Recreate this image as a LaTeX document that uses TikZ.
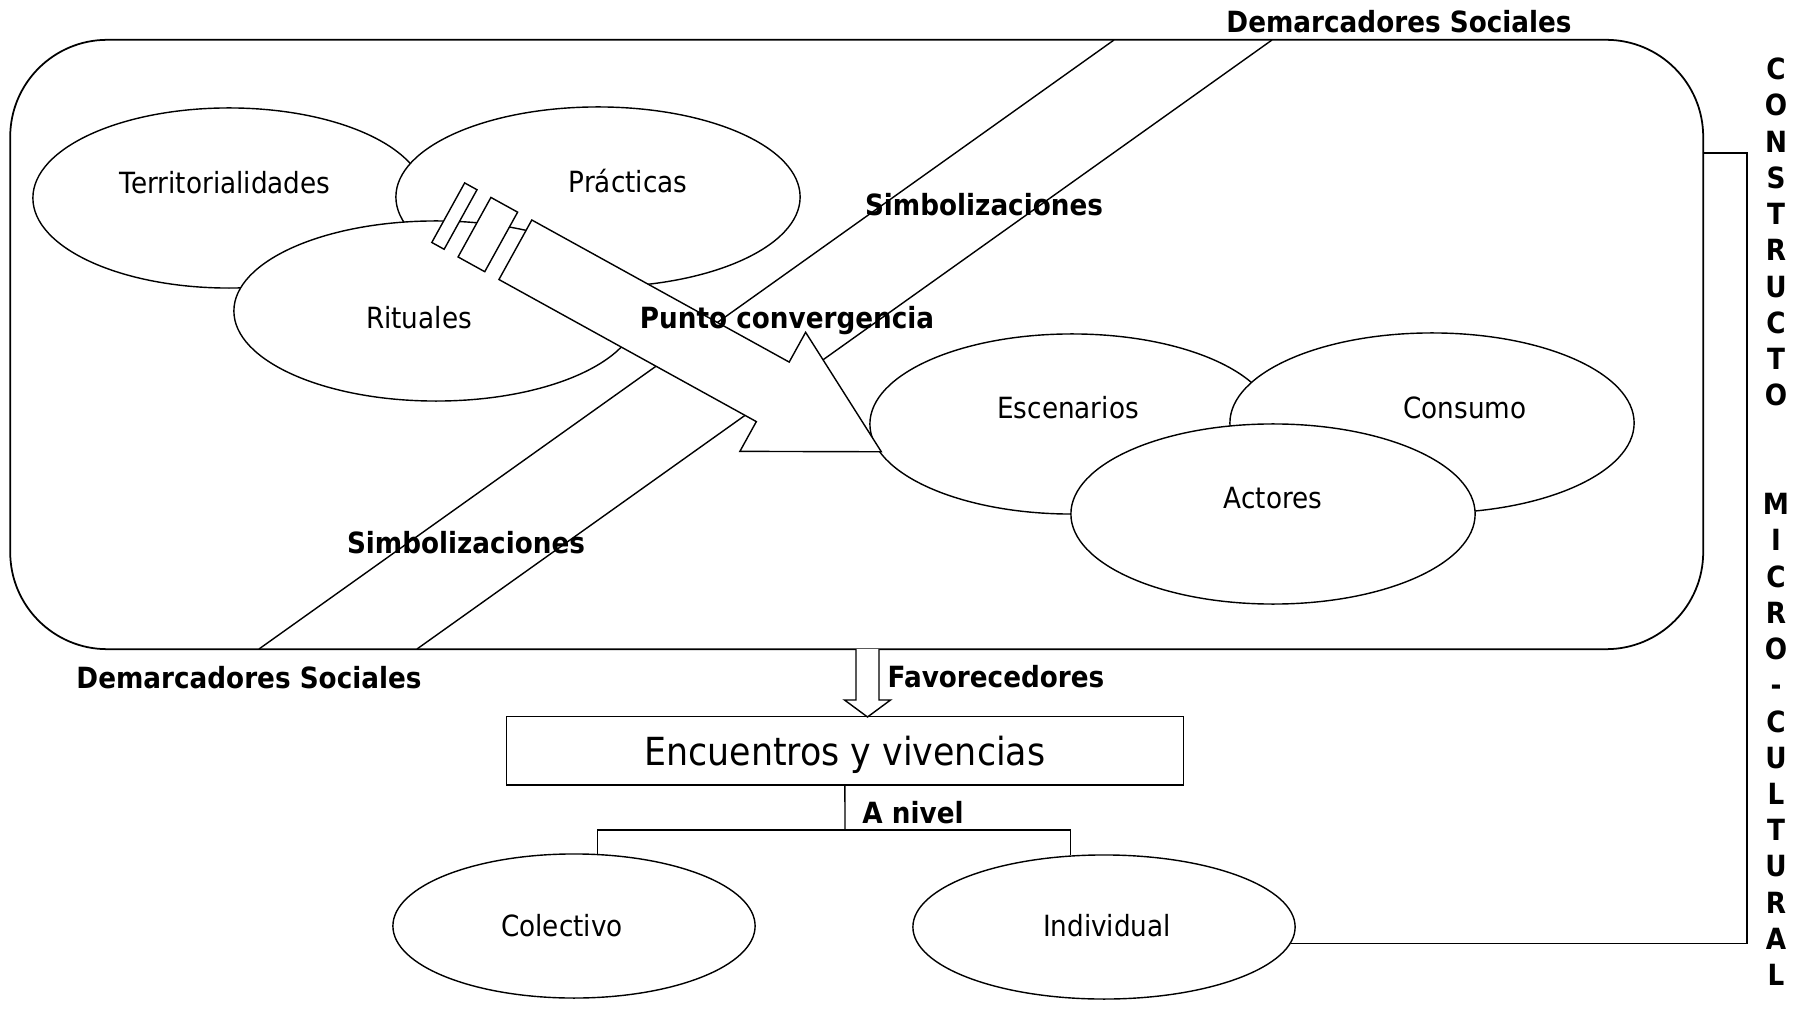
\documentclass[tikz,border=0pt]{standalone}
\usepackage{fontspec}
\setmainfont{DejaVu Sans}[FakeStretch=0.9]
\usetikzlibrary{shapes.geometric}

\begin{document}
\begin{tikzpicture}[x=0.01cm,y=-0.01cm,
	linea/.style={line width=0.4pt},
	elipse/.style={ellipse,draw,fill=white,linea,inner sep=0pt,minimum width=4.04cm,minimum height=1.8cm},
	texto/.style={inner sep=0pt,text height=1.35ex,text depth=0.27ex,font=\fontsize{8.3}{10}\selectfont},
	negrita/.style={texto,font=\fontsize{8.3}{10}\selectfont\bfseries}]
			
			\useasboundingbox (0,0) rectangle (1810,1010);
			
			% marco del constructo
			\node[draw,line width=0.5pt,rounded corners=0.97cm,minimum width=16.92cm,minimum height=6.09cm,inner sep=0pt] (marco) at (856.7,344.5) {};
			
			% franja de demarcadores
			\coordinate (franjaA1) at (1114,40);
			\coordinate (franjaA2) at (259,649);
			\coordinate (franjaB1) at (1272,40);
			\coordinate (franjaB2) at (417,649);
			\draw[linea] (franjaA1) -- (franjaA2);
			\draw[linea] (franjaB1) -- (franjaB2);
			
			\node[elipse,minimum width=3.92cm] (terr) at (229,198) {};
			\node[elipse] (prac) at (598,197) {};
			\node[elipse] (ritu) at (436,311) {};
			\node[elipse] (esce) at (1072,424) {};
			\node[elipse] (consu) at (1432,423) {};
			\node[elipse] (acto) at (1273,514) {};
			
			% flecha hacia el punto de convergencia
			\begin{scope}[shift={(531.8,220)},rotate=-28.9]
				\draw[linea,fill=white] (0,0) -- (294,0) -- (294,-34) -- (418,34) -- (294,102) -- (294,68) -- (0,68) -- cycle;
				\draw[linea,fill=white] (-46.7,0) rectangle (-16.2,68);
				\draw[linea,fill=white] (-76.7,0) rectangle (-62.6,68);
			\end{scope}
			
			\node[texto] (tTerr) at (225,183) {Territorialidades};
			\node[texto] (tPrac) at (628,182) {Prácticas};
			\node[texto] (tRitu) at (419,318) {Rituales};
			\node[texto] (tEsce) at (1068,408) {Escenarios};
			\node[texto] (tConsu) at (1465,408) {Consumo};
			\node[texto] (tActo) at (1273,498) {Actores};
			
			\node[negrita] (demArriba) at (1399,22) {Demarcadores Sociales};
			\node[negrita] (simbArriba) at (984,205) {Simbolizaciones};
			\node[negrita] (punto) at (787,318) {Punto convergencia};
			\node[negrita] (simbAbajo) at (466,543) {Simbolizaciones};
			\node[negrita] (demAbajo) at (249,678) {Demarcadores Sociales};
			\node[negrita] (favo) at (996,677) {Favorecedores};
			
			% flecha hueca
			\draw[linea,fill=white] (856,649) -- (856,700) -- (844.5,700) -- (867.5,717) -- (890.5,700) -- (879,700) -- (879,649);
			
			\node[draw,linea,minimum width=6.763cm,minimum height=0.682cm,inner sep=0pt,text height=1.75ex,text depth=0.25ex,font=\fontsize{11}{13}\selectfont] (encu) at (844.9,750.9) {Encuentros y vivencias};
			
			\node[elipse,minimum width=3.62cm,minimum height=1.44cm] (cole) at (574,926) {};
			\node[elipse,minimum width=3.82cm,minimum height=1.44cm] (indi) at (1104,927) {};
			\node[texto] (tCole) at (562,926) {Colectivo};
			\node[texto] (tIndi) at (1107,926) {Individual};
			
			\coordinate (nivel) at (845,830);
			\draw[linea] (encu.south) -- (nivel);
			\draw[linea] (cole.72) |- (nivel) -| (indi.115);
			\node[negrita] (aNivel) at (913,813) {A nivel};
			
			% llave lateral
			\coordinate (ganchoA) at (1702.7,153);
			\coordinate (ganchoB) at (1747,153);
			\draw[linea] (ganchoA) -- (ganchoB) |- (indi.-5);
			
			\foreach \letra [count=\i] in {C,O,N,S,T,R,U,C,T,O}
				\node[negrita] (vertA\i) at (1776,{69.3+36.24*(\i-1)}) {\letra};
			\foreach \letra [count=\i] in {M,I,C,R,O,-,C,U,L,T,U,R,A,L}
				\node[negrita] (vertB\i) at (1776,{504.2+36.24*(\i-1)}) {\letra};
			
		\end{tikzpicture}
\end{document}
